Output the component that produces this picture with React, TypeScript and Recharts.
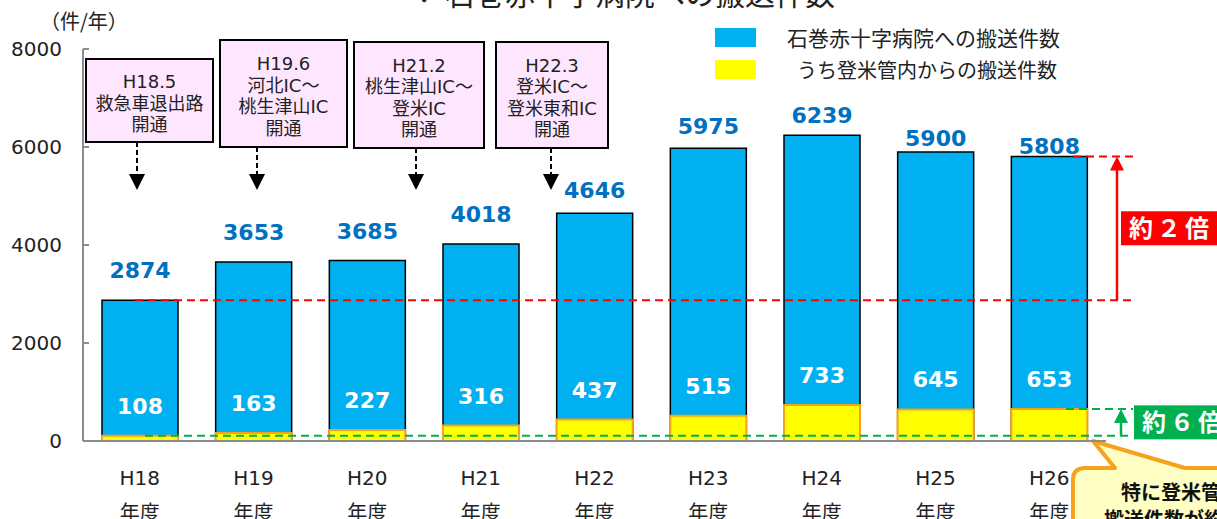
import React from "react";
import {
  BarChart,
  Bar,
  XAxis,
  YAxis,
  LabelList,
  ReferenceLine,
  ReferenceArea,
  Legend,
  Customized,
} from "recharts";

// fiscal years, Heisei era
const YEARS = ["H18", "H19", "H20", "H21", "H22", "H23", "H24", "H25", "H26"];
// transports to Ishinomaki Red Cross Hospital
const TOTAL = [2874, 3653, 3685, 4018, 4646, 5975, 6239, 5900, 5808];
// of which from the Tome area
const TOME = [108, 163, 227, 316, 437, 515, 733, 645, 653];
const Y_TICKS = [0, 2000, 4000, 6000, 8000];

const NAME_TOTAL = "石巻赤十字病院への搬送件数";
const NAME_TOME = "うち登米管内からの搬送件数";
const LEGEND_ORDER = ["total", "tome"];

const EVENT_NOTES = [
  ["H18.5", "救急車退出路", "開通"],
  ["H19.6", "河北IC～", "桃生津山IC", "開通"],
  ["H21.2", "桃生津山IC～", "登米IC", "開通"],
  ["H22.3", "登米IC～", "登米東和IC", "開通"],
];

// layout only (px) — where the opening notes sit
const NOTE_BOXES = [
  { x: 86, y: 59, w: 127, h: 83, ax: 137 },
  { x: 220, y: 40, w: 127, h: 107, ax: 257 },
  { x: 354, y: 42, w: 130, h: 106, ax: 416 },
  { x: 496, y: 42, w: 112, h: 106, ax: 551 },
];
// the totals were hand-placed in the original, lift above bar top
const TOTAL_LABEL_LIFT = [30, 30, 29, 30, 23, 22, 20, 14, 10.5];

const data = YEARS.map((y, i) => ({ year: y, total: TOTAL[i], tome: TOME[i] }));

const JP = "'Noto Sans CJK JP', sans-serif";
const LATIN = "'DejaVu Sans', 'Noto Sans CJK JP', sans-serif";
const BLUE = "#00B0F0";
const YELLOW = "#FFFF00";
const RED = "#FF0000";
const GREEN = "#00B050";
const ORANGE = "#F7A21C";
const TICK_GAP = 21;

const YTick = (p: any) => (
  <g>
    <text x={p.x} y={p.y + 7} textAnchor="end" fontSize={20} fontFamily={LATIN} fill="#222">
      {p.payload.value}
    </text>
    <line x1={p.x + TICK_GAP} x2={p.x + TICK_GAP + 6} y1={p.y} y2={p.y} stroke="#8c8c8c" strokeWidth={2} />
  </g>
);

const XTick = (p: any) => (
  <g>
    <text x={p.x} y={p.y + 44} textAnchor="middle" fontSize={20} fontFamily={LATIN} fill="#222">
      {p.payload.value}
    </text>
    <text x={p.x} y={p.y + 79} textAnchor="middle" fontSize={20} fontFamily={JP} fill="#222">
      年度
    </text>
  </g>
);

function box(p: any) {
  const vb = p.viewBox ?? {};
  return {
    x: Number(p.x ?? vb.x),
    y: Number(p.y ?? vb.y),
    w: Number(p.width ?? vb.width),
  };
}

const TotalLabel = (p: any) => {
  const b = box(p);
  const lift = TOTAL_LABEL_LIFT[p.index] ?? 24;
  return (
    <text x={b.x + b.w / 2} y={b.y - lift + 8} textAnchor="middle" fontSize={22}
      fontWeight="bold" fontFamily={LATIN} fill="#0070C0">
      {p.value}
    </text>
  );
};

const TomeLabel = (p: any) => {
  const b = box(p);
  return (
    <text x={b.x + b.w / 2} y={b.y - 30 + 8} textAnchor="middle" fontSize={22}
      fontWeight="bold" fontFamily={LATIN} fill="#fff">
      {p.value}
    </text>
  );
};

// dashed guide, offsets relative to plot edges
const dashed = (color: string, fromLeft: number | null, fromRight: number, endRight: number) =>
  (p: any) => {
    const x1 = fromLeft !== null ? p.x1 + fromLeft : p.x2 + fromRight;
    return (
      <line x1={x1} x2={p.x2 + endRight} y1={p.y1} y2={p.y2} stroke={color}
        strokeWidth={2} strokeDasharray="8 5" />
    );
  };

const multiple = (color: string, text: string, dx: number, boxDx: number, boxH: number) =>
  (p: any) => {
    const right = p.x + p.width;
    const ax = right + dx;
    const top = p.y;
    const bot = p.y + p.height;
    const mid = (top + bot) / 2;
    return (
      <g>
        <line x1={ax} x2={ax} y1={bot} y2={top + 12} stroke={color} strokeWidth={2.5} />
        <path d={`M${ax - 7},${top + 14} L${ax + 7},${top + 14} L${ax},${top} Z`} fill={color} />
        <rect x={right + boxDx} y={mid - boxH / 2} width={120} height={boxH} fill={color} />
        <text x={right + boxDx + 8} y={mid + 9} fontSize={24} fontWeight="bold" fontFamily={JP}
          fill="#fff" letterSpacing={4}>
          {text}
        </text>
      </g>
    );
  };

const LegendContent = (p: any) => {
  const items = [...(p.payload ?? [])].sort(
    (a: any, b: any) => LEGEND_ORDER.indexOf(a.dataKey) - LEGEND_ORDER.indexOf(b.dataKey)
  );
  return (
    <div style={{ position: "relative", width: 420, height: 60, fontFamily: JP, color: "#222" }}>
      {items.map((e: any, i: number) => (
        <div key={i} style={{ position: "absolute", left: 0, top: i * 32, height: 19, display: "flex", alignItems: "center" }}>
          <div style={{ width: 41, height: 19, background: e.color }} />
          <span style={{ marginLeft: i === 0 ? 31 : 41, fontSize: i === 0 ? 21 : 20, whiteSpace: "nowrap", lineHeight: "19px" }}>
            {e.value}
          </span>
        </div>
      ))}
    </div>
  );
};

const Notes = () => (
  <g>
    <text x={417} y={5} fontSize={28} fontFamily={LATIN} fill="#222">✓</text>
    <text x={445} y={5} fontSize={30} fontFamily={JP} fill="#222">石巻赤十字病院への搬送件数</text>
    <text x={40} y={29} fontSize={20} fontFamily={JP} fill="#222">（件/年）</text>
    {NOTE_BOXES.map((b, i) => {
      const lines = EVENT_NOTES[i];
      const lh = 21.5;
      const c = b.y + b.h / 2 + 2;
      const first = c - ((lines.length - 1) * lh) / 2;
      return (
        <g key={i}>
          <rect x={b.x} y={b.y} width={b.w} height={b.h} fill="#FFE6FF" stroke="#000" strokeWidth={2} />
          {lines.map((t, j) => (
            <text key={j} x={b.x + b.w / 2} y={first + j * lh + 7} textAnchor="middle" fontSize={18}
              fontFamily={LATIN} fill="#222">
              {t}
            </text>
          ))}
          <line x1={b.ax} x2={b.ax} y1={b.y + b.h} y2={175} stroke="#000" strokeWidth={2} strokeDasharray="5 3" />
          <path d={`M${b.ax - 8},174 L${b.ax + 8},174 L${b.ax},190 Z`} fill="#000" />
        </g>
      );
    })}
    <path
      d="M1073,480 Q1073,468 1085,468 L1115,468 L1093,441 L1185,468 L1240,468 L1240,540 L1073,540 Z"
      fill="#FFFFC4" stroke={ORANGE} strokeWidth={4} strokeLinejoin="round" />
    <text x={1121} y={500} fontSize={20} fontWeight="bold" fontFamily={JP} fill="#111">特に登米管内からの</text>
    <text x={1104} y={527} fontSize={20} fontWeight="bold" fontFamily={JP} fill="#111">搬送件数が約６倍に増加</text>
  </g>
);

export default function App() {
  return (
    <div style={{ position: "absolute", left: 0, top: 0, width: 1217, height: 519, background: "#fff" }}>
      <BarChart width={1217} height={519} data={data} barSize={76} barGap={-76}
        margin={{ top: 49, right: 111, bottom: 38, left: 0 }}>
        <XAxis dataKey="year" height={40} tickSize={0} tickMargin={0} tickLine={false}
          axisLine={{ stroke: "#8c8c8c", strokeWidth: 2 }} tick={<XTick />} interval={0} />
        <YAxis width={83} domain={[0, 8000]} ticks={Y_TICKS} tickSize={0} tickMargin={TICK_GAP}
          tickLine={false} axisLine={{ stroke: "#8c8c8c", strokeWidth: 2 }} tick={<YTick />} />
        <Legend layout="vertical" align="center" verticalAlign="middle" content={<LegendContent />}
          wrapperStyle={{ left: 715, top: 28, width: 420, height: 60 }} />
        <Bar dataKey="total" name={NAME_TOTAL} fill={BLUE} stroke="#000" strokeWidth={1.5}
          isAnimationActive={false}>
          <LabelList dataKey="total" content={<TotalLabel />} />
        </Bar>
        <Bar dataKey="tome" name={NAME_TOME} fill={YELLOW} stroke={ORANGE} strokeWidth={2}
          isAnimationActive={false}>
          <LabelList dataKey="tome" content={<TomeLabel />} />
        </Bar>
        <ReferenceLine y={TOTAL[0]} shape={dashed(RED, 52, 0, 29)} />
        <ReferenceLine y={TOTAL[TOTAL.length - 1]} shape={dashed(RED, null, -33, 32)} />
        <ReferenceLine y={TOME[0]} shape={dashed(GREEN, 62, 0, 27)} />
        <ReferenceLine y={TOME[TOME.length - 1]} shape={dashed(GREEN, null, -40, 27)} />
        <ReferenceArea y1={TOTAL[0]} y2={TOTAL[TOTAL.length - 1]} fill="none"
          shape={multiple(RED, "約２倍", 11, 15, 34)} />
        <ReferenceArea y1={TOME[0]} y2={TOME[TOME.length - 1]} fill="none"
          shape={multiple(GREEN, "約６倍", 15, 28, 34)} />
        <Customized component={<Notes />} />
      </BarChart>
    </div>
  );
}
